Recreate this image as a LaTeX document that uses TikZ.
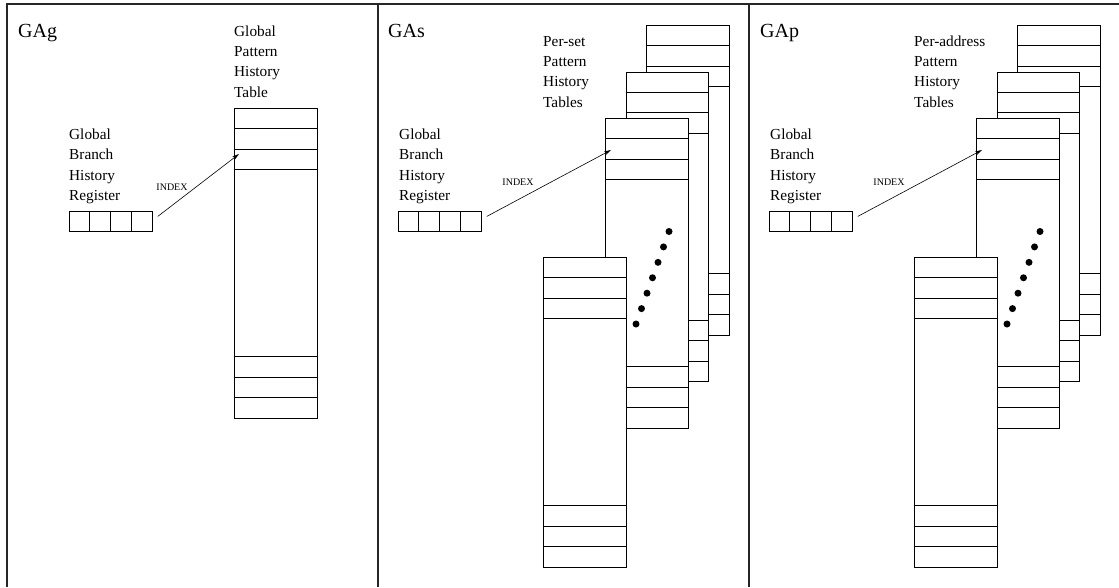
\documentclass[tikz,border=0pt]{standalone}
\usepackage{fontspec}
\setmainfont{Liberation Serif}
\usetikzlibrary{arrows.meta}
\newcommand\mytable[3]{%
  \node[tbl] (#1) at (#2,#3) {};
  \foreach \k in {1,2,3} {
    \draw[ln] ([yshift=-\k*20.6pt]#1.north west) -- ([yshift=-\k*20.6pt]#1.north east);
    \draw[ln] ([yshift=\k*20.6pt]#1.south west) -- ([yshift=\k*20.6pt]#1.south east);
  }}
\newcommand\myreg[3]{%
  \node[reg] (#1) at (#2,#3) {};
  \foreach \k in {1,2,3}
    \draw[ln] ([xshift=\k*20.75pt]#1.north west) -- ([xshift=\k*20.75pt]#1.south west);}
\begin{document}
\begin{tikzpicture}[x=1pt,y=-1pt,
  lbl/.style={anchor=base west, inner sep=0pt, font=\fontsize{15.3}{20}\selectfont},
  ttl/.style={anchor=base west, inner sep=0pt, font=\fontsize{20}{24}\selectfont},
  idx/.style={inner sep=0pt, font=\fontsize{10}{12}\selectfont},
  frame/.style={line width=1.1pt, draw=black!85},
  tbl/.style={draw, fill=white, line width=0.8pt, minimum width=82.5pt, minimum height=309.5pt, inner sep=0pt, anchor=north west},
  reg/.style={draw, line width=0.8pt, minimum width=83pt, minimum height=20pt, inner sep=0pt, anchor=north west},
  ln/.style={line width=0.8pt},
  blob/.style={circle, fill=black, inner sep=0pt, minimum size=7pt},
  arr/.style={-{Stealth[length=7pt,width=4pt]}, line width=0.6pt}]
\fill[white] (0,0) rectangle (1119,587);
\useasboundingbox (0,0) rectangle (1119,587);
% frame
\draw[frame] (7,587) -- (7,4) -- (1119,4);
\draw[frame] (378,4) -- (378,587);
\draw[frame] (749,4) -- (749,587);

% ---------- Panel 1: GAg ----------
\node[ttl] (t1) at (18,37) {GAg};
\foreach \t [count=\i] in {Global,Pattern,History,Table}
  \node[lbl] (pa\i) at (234,{36+20.4*(\i-1)}) {\t};
\foreach \t [count=\i] in {Global,Branch,History,Register}
  \node[lbl] (ra\i) at (69,{139.3+20.4*(\i-1)}) {\t};
\mytable{ga}{234}{108}
\myreg{rga}{69}{211}
\coordinate (ea) at (239,154);
\draw[arr] ([xshift=5pt,yshift=5pt]rga.east) -- (ea);
\node[idx] (ia) at (172,187) {INDEX};

% ---------- Panel 2: GAs ----------
\node[ttl] (t2) at (388,37) {GAs};
\foreach \t [count=\i] in {Per-set,Pattern,History,Tables}
  \node[lbl] (pb\i) at (543,{46+20.4*(\i-1)}) {\t};
\foreach \t [count=\i] in {Global,Branch,History,Register}
  \node[lbl] (rb\i) at (399,{139.3+20.4*(\i-1)}) {\t};
\mytable{sa}{646}{25}
\mytable{sb}{625.5}{71.5}
\mytable{sc}{605}{118}
\foreach \i in {0,...,6}
  \node[blob] (db\i) at ({669-5.5*\i},{231.5+15.42*\i}) {};
\mytable{sd}{543}{257}
\myreg{rgs}{398}{211}
\coordinate (eb) at (611,150);
\draw[arr] ([xshift=5pt,yshift=5pt]rgs.east) -- (eb);
\node[idx] (ib) at (518,182) {INDEX};

% ---------- Panel 3: GAp ----------
\node[ttl] (t3) at (760,37) {GAp};
\foreach \t [count=\i] in {Per-address,Pattern,History,Tables}
  \node[lbl] (pc\i) at (914,{46+20.4*(\i-1)}) {\t};
\foreach \t [count=\i] in {Global,Branch,History,Register}
  \node[lbl] (rc\i) at (770,{139.3+20.4*(\i-1)}) {\t};
\mytable{pa}{1017}{25}
\mytable{pb}{996.5}{71.5}
\mytable{pc}{976}{118}
\foreach \i in {0,...,6}
  \node[blob] (dc\i) at ({1040-5.5*\i},{231.5+15.42*\i}) {};
\mytable{pd}{914}{257}
\myreg{rgp}{769}{211}
\coordinate (ec) at (982,150);
\draw[arr] ([xshift=5pt,yshift=5pt]rgp.east) -- (ec);
\node[idx] (ic) at (889,182) {INDEX};
\end{tikzpicture}
\end{document}
